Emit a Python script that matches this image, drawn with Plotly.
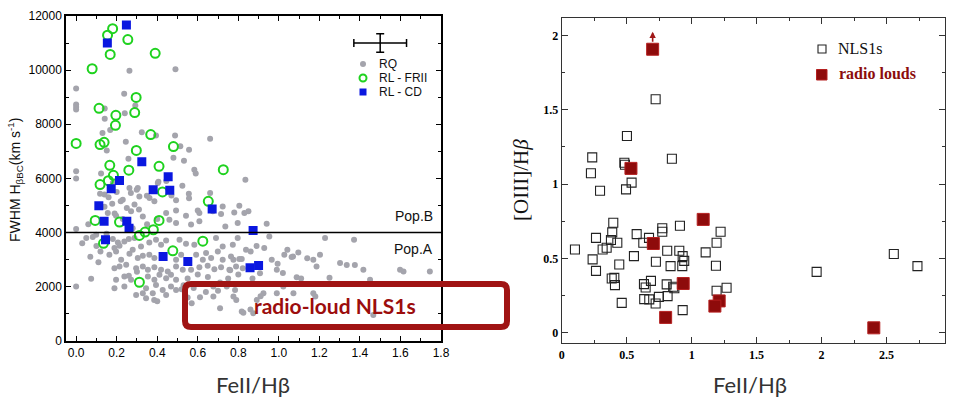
import plotly.graph_objects as go

# ---- left panel data: FeII/Hb vs FWHM Hb (km/s) ----
rq_points = [
    (0.263, 9980), (0.49, 10030), (0.0, 9320), (0.0, 8730), (0.0, 8640), (0.0, 8545),
    (0.237, 9130), (0.141, 8580), (0.24, 8410), (0.292, 8690), (0.141, 8200), (0.13, 7680),
    (0.168, 7790), (0.324, 7700), (0.394, 7580), (0.488, 7580), (0.661, 7460), (0.245, 7350),
    (0.151, 7030), (0.514, 7190), (0.557, 7060), (0.258, 6720), (0.48, 6760), (0.532, 6650),
    (0.0, 6260), (0.0, 5990), (0.123, 6180), (0.583, 6320), (0.59, 6175), (0.835, 5950),
    (0.406, 5870), (0.445, 5900), (0.524, 5730), (0.299, 5580), (0.27, 5460), (0.661, 5460),
    (0.349, 5360), (0.557, 5260), (0.118, 5430), (0.14, 5400), (0.47, 5370), (0.263, 5645),
    (0.304, 5645), (0.403, 5830), (0.181, 5830),
    (0.556, 5430), (0.312, 5330), (0.362, 5275), (0.23, 5210), (0.178, 5065), (0.288, 5030),
    (0.386, 5150), (0.493, 5190), (0.6, 4815), (0.608, 4720), (0.156, 4720), (0.197, 4620),
    (0.271, 4780), (0.329, 4590), (0.444, 4720), (0.493, 4815), (0.542, 4620), (0.674, 4780),
    (0.723, 4960), (0.715, 4680), (0.78, 4740), (0.805, 4990), (0.83, 4720), (0.493, 4350),
    (0.46, 4470), (0.567, 4290), (0.608, 4410), (0.736, 4220), (0.797, 4350), (0.279, 4160),
    (0.0, 4130), (0.85, 4780), (0.94, 4320), (0.953, 3850),
    (0.082, 3830), (0.099, 3915), (0.181, 3756), (0.206, 3630), (0.238, 3667), (0.26, 3756),
    (0.288, 3793), (0.189, 3422), (0.214, 3508), (0.279, 3360), (0.32, 3482), (0.361, 3630),
    (0.394, 3730), (0.419, 3545), (0.444, 3704), (0.51, 3730), (0.542, 3582), (0.583, 3545),
    (0.69, 3793), (0.723, 3482), (0.797, 3793), (0.773, 3545), (0.838, 3360), (0.164, 3175),
    (0.197, 3297), (0.222, 2989), (0.263, 3212), (0.304, 3052), (0.329, 3137), (0.361, 3175),
    (0.386, 3052), (0.493, 2989), (0.518, 3175), (0.592, 3175), (0.625, 2989), (0.641, 3238),
    (0.666, 3052), (0.699, 3297), (0.723, 2989), (0.764, 3111), (0.805, 3015), (0.189, 2682),
    (0.214, 2741), (0.247, 2804), (0.296, 2682), (0.329, 2741), (0.354, 2619), (0.386, 2719),
    (0.419, 2619), (0.452, 2556), (0.493, 2741), (0.526, 2619), (0.567, 2619), (0.608, 2719),
    (0.649, 2767), (0.682, 2645), (0.715, 2719), (0.756, 2619), (0.789, 2741), (0.822, 2682),
    (0.074, 2285), (0.197, 2248), (0.238, 2371), (0.271, 2248), (0.354, 2371), (0.386, 2248),
    (0.411, 2434), (0.444, 2311), (0.468, 2434), (0.493, 2248), (0.0, 2000), (0.189, 1941),
    (0.238, 2000), (0.345, 1941), (0.394, 2063), (0.427, 1878), (0.468, 2000), (0.493, 1878),
    (0.296, 1693), (0.329, 1756), (0.378, 1756), (0.444, 1693), (0.345, 1570), (0.385, 1508),
    (0.4, 1460), (0.52, 1900), (0.611, 1607), (0.677, 1630), (0.71, 1200), (0.677, 2000),
    (0.70, 1850), (0.743, 2000), (0.776, 1630), (0.817, 1075), (0.86, 1150), (0.891, 1508),
    (0.57, 1385),
    (0.861, 3297), (0.89, 3500), (0.928, 3422), (0.965, 2989), (0.99, 2619), (1.02, 2500),
    (1.042, 3360), (1.07, 3111), (1.088, 2348), (1.11, 2300), (1.17, 2989), (1.186, 2740),
    (1.203, 3175), (1.228, 3793), (1.25, 2330), (1.302, 2867), (1.335, 2800), (1.371, 3730),
    (1.375, 2800), (1.417, 2619), (1.45, 2248), (1.466, 952), (1.598, 2619), (1.615, 2556),
    (1.745, 2556), (1.14, 3050), (0.776, 2989), (0.817, 3015), (0.76, 2600), (0.994, 2841),
    (1.027, 3175), (1.063, 3089), (1.096, 3260), (0.907, 2497), (0.87, 2300), (0.924, 1756),
    (0.91, 1640), (0.99, 1756), (1.022, 2000), (1.072, 1756), (1.17, 1756), (1.18, 1630),
    (0.825, 1037), (0.874, 1015), (0.79, 1500), (0.784, 1878),
    (0.16, 5300), (0.2, 5500), (0.22, 5150), (0.14, 4950), (0.25, 4900), (0.19, 4700),
    (0.23, 4500), (0.06, 4300), (0.05, 3800), (0.1, 3500), (0.12, 3300), (0.03, 3600),
    (0.15, 3950), (0.35, 4300), (0.4, 4500), (0.31, 4850), (0.11, 2900), (0.07, 3100),
    (0.26, 2400), (0.30, 2550), (0.55, 2300), (0.6, 2450), (0.65, 2350), (0.53, 2050),
    (0.58, 1950), (0.64, 1800), (0.71, 2150), (0.75, 2300), (0.8, 2450), (0.55, 1600),
]
rq_fe = [p[0] for p in rq_points]
rq_fwhm = [p[1] for p in rq_points]

frii_fe = [0.18, 0.155, 0.255, 0.168, 0.39, 0.079, 0.296, 0.113, 0.196, 0.289, 0.194, 0.368,
           0.0, 0.118, 0.138, 0.297, 0.48, 0.166, 0.409, 0.26, 0.726, 0.184, 0.159, 0.118,
           0.426, 0.652, 0.094, 0.214, 0.409, 0.135, 0.312, 0.34, 0.381, 0.625, 0.477, 0.312]
frii_fwhm = [11530, 11290, 11130, 10580, 10620, 10050, 8990, 8590, 8330, 8430, 7960, 7620,
             7290, 7250, 7330, 7030, 7175, 6480, 6445, 6300, 6320, 6110, 5915, 5770,
             5500, 5150, 4445, 4385, 4445, 3600, 3890, 4015, 4100, 3680, 3320, 2160]

cd_fe = [0.248, 0.154, 0.324, 0.454, 0.173, 0.38, 0.462, 0.214, 0.112, 0.138, 0.25,
         0.261, 0.145, 0.671, 0.873, 0.429, 0.551, 0.858, 0.9]
cd_fwhm = [11670, 11000, 6610, 6060, 5620, 5580, 5560, 5920, 4990, 4410, 4410,
           4160, 3730, 4870, 4070, 3110, 2930, 2700, 2780]

pop_boundary = 4000
err_x = [1.5]
err_y = [11000]
err_dx = [0.13]
err_dy = [340]

# ---- right panel data: FeII/Hb vs [OIII]/Hb ----
nls1_fe = [0.723, 0.502, 0.235, 0.848, 0.225, 0.482, 0.487, 0.295, 0.495, 0.538,
           0.102, 0.238, 0.264, 0.264, 0.315, 0.346, 0.379, 0.389, 0.397, 0.428,
           0.443, 0.385, 0.405, 0.41, 0.462, 0.556, 0.577, 0.628, 0.672, 0.633,
           0.646, 0.687, 0.635, 0.674, 0.723, 0.725, 0.748, 0.774, 0.774, 0.812,
           0.808, 0.815, 0.838, 0.858, 0.867, 0.91, 0.905, 0.931, 0.928, 0.943,
           0.931, 1.108, 1.192, 1.187, 1.223, 1.192, 1.269, 1.962, 2.556, 2.738]
nls1_oiii = [1.571, 1.324, 1.18, 1.171, 1.073, 1.144, 1.13, 0.956, 0.965, 1.01,
             0.561, 0.494, 0.417, 0.639, 0.561, 0.572, 0.624, 0.676, 0.74, 0.606,
             0.46, 0.366, 0.37, 0.321, 0.202, 0.516, 0.664, 0.606, 0.639, 0.328,
             0.305, 0.35, 0.227, 0.225, 0.198, 0.478, 0.242, 0.703, 0.68, 0.552,
             0.326, 0.247, 0.449, 0.31, 0.3, 0.72, 0.552, 0.516, 0.449, 0.484,
             0.153, 0.541, 0.606, 0.451, 0.68, 0.283, 0.303, 0.41, 0.53, 0.449]

rl_fe = [0.7, 0.533, 1.089, 0.705, 0.935, 0.8, 1.212, 1.179, 2.402]
rl_oiii = [1.907, 1.106, 0.763, 0.601, 0.332, 0.104, 0.215, 0.18, 0.034]
lower_limit_fe = 0.7
lower_limit_oiii = 1.907

W, H = 960, 402


def px(x):
    return x / W


def py(y):
    return 1 - y / H


SANS = "Liberation Sans"
SERIF = "Liberation Serif"
CAL = "Lato"
DARKRED = "#8c0c0c"

fig = go.Figure()

fig.add_trace(go.Scatter(x=rq_fe, y=rq_fwhm, mode="markers", xaxis="x", yaxis="y",
                         marker=dict(color="#a4a4ac", size=6, line=dict(width=0))))
fig.add_trace(go.Scatter(x=frii_fe, y=frii_fwhm, mode="markers", xaxis="x", yaxis="y",
                         marker=dict(symbol="circle-open", color="#1fd21f", size=9,
                                     line=dict(width=2, color="#1fd21f"))))
fig.add_trace(go.Scatter(x=cd_fe, y=cd_fwhm, mode="markers", xaxis="x", yaxis="y",
                         marker=dict(symbol="square", color="#0a17e0", size=9,
                                     line=dict(width=0))))
fig.add_trace(go.Scatter(x=err_x, y=err_y, mode="markers", xaxis="x", yaxis="y",
                         marker=dict(size=1, color="black"),
                         error_x=dict(type="data", array=err_dx, color="black",
                                      thickness=1.5, width=4),
                         error_y=dict(type="data", array=err_dy, color="black",
                                      thickness=1.5, width=4)))

fig.add_trace(go.Scatter(x=nls1_fe, y=nls1_oiii, mode="markers", xaxis="x2", yaxis="y2",
                         marker=dict(symbol="square-open", color="#222", size=9,
                                     line=dict(width=1.1, color="#222"))))
fig.add_trace(go.Scatter(x=rl_fe, y=rl_oiii, mode="markers", xaxis="x2", yaxis="y2",
                         marker=dict(symbol="square", color="#8e0b0b", size=12,
                                     line=dict(width=1, color="#b52020"))))

left_ax = dict(showline=True, linecolor="black", linewidth=1.5, mirror="ticks",
               ticks="inside", ticklen=5, tickcolor="black", showgrid=False,
               zeroline=False, automargin=False,
               tickfont=dict(family=SANS, size=12, color="black"))
right_ax = dict(showline=True, linecolor="#333", linewidth=1, mirror="ticks",
                ticks="inside", ticklen=6, tickcolor="#333", showgrid=False,
                zeroline=False, automargin=False,
                tickfont=dict(family=SERIF, size=12, color="black", weight="bold"))

fig.update_layout(
    width=W, height=H, autosize=False,
    margin=dict(l=0, r=0, t=0, b=0, pad=0),
    paper_bgcolor="white", plot_bgcolor="white",
    showlegend=False,
    xaxis=dict(left_ax, domain=[px(66), px(441)], range=[-0.05, 1.8], dtick=0.2, tick0=0,
               tickformat=".1f", anchor="y",
               minor=dict(dtick=0.1, ticks="inside", ticklen=3, tickcolor="black")),
    yaxis=dict(left_ax, domain=[py(340.7), py(16)], range=[0, 12000], dtick=2000,
               tickformat="d", anchor="x",
               minor=dict(dtick=1000, ticks="inside", ticklen=3, tickcolor="black")),
    xaxis2=dict(right_ax, domain=[px(561.7), px(945)], range=[0, 2.95], dtick=0.5, tick0=0,
                anchor="y2",
                minor=dict(dtick=0.25, ticks="inside", ticklen=3, tickcolor="#333")),
    yaxis2=dict(right_ax, domain=[py(343.3), py(18.3)], range=[-0.07, 2.115], dtick=0.5,
                anchor="x2",
                minor=dict(dtick=0.25, ticks="inside", ticklen=3, tickcolor="#333")),
)

# Pop.A / Pop.B boundary
fig.add_shape(type="line", xref="x domain", yref="y", x0=0, x1=1,
              y0=pop_boundary, y1=pop_boundary, line=dict(color="black", width=1.5))

ann = []
ann.append(dict(x=1.77, y=pop_boundary, xref="x", yref="y", text="Pop.B", showarrow=False,
                xanchor="right", yanchor="bottom", yshift=6,
                font=dict(family=SANS, size=14, color="#111")))
ann.append(dict(x=1.77, y=pop_boundary, xref="x", yref="y", text="Pop.A", showarrow=False,
                xanchor="right", yanchor="top", yshift=-7,
                font=dict(family=SANS, size=14, color="#111")))


def label(xp, yp, text, font, xanchor="center", angle=0):
    return dict(x=px(xp), y=py(yp), xref="paper", yref="paper", text=text,
                showarrow=False, xanchor=xanchor, yanchor="middle",
                textangle=angle, font=font)


# axis titles
ann.append(label(253, 384, "FeII/Hβ", dict(family=CAL, size=22, color="#333")))
ann.append(label(750, 384, "FeII/Hβ", dict(family=CAL, size=22, color="#333")))
ann.append(label(15, 180, "FWHM H<sub>βBC</sub>(km s<sup>-1</sup>)",
                 dict(family=SANS, size=14, color="#111"), angle=-90))
ann.append(label(521, 180, "[OIII]/H<i>β</i>",
                 dict(family=SERIF, size=21, color="#111"), angle=-90))

# left legend (drawn by hand)
for text, yy in [("RQ", 64), ("RL - FRII", 78), ("RL - CD", 92)]:
    ann.append(label(377, yy, text, dict(family=SANS, size=12, color="#111"), xanchor="left"))
fig.add_shape(type="circle", xref="paper", yref="paper",
              x0=px(360), x1=px(366), y0=py(67), y1=py(61),
              fillcolor="#a4a4ac", line=dict(width=0))
fig.add_shape(type="circle", xref="paper", yref="paper",
              x0=px(359.5), x1=px(366.5), y0=py(81.5), y1=py(74.5),
              line=dict(color="#1fd21f", width=2))
fig.add_shape(type="rect", xref="paper", yref="paper",
              x0=px(359.5), x1=px(366.5), y0=py(95.5), y1=py(88.5),
              fillcolor="#0a17e0", line=dict(width=0))

# right legend
fig.add_shape(type="rect", xref="paper", yref="paper",
              x0=px(818), x1=px(826), y0=py(53), y1=py(45),
              line=dict(color="#222", width=1.1))
fig.add_shape(type="rect", xref="paper", yref="paper",
              x0=px(816.5), x1=px(827), y0=py(80), y1=py(69.5),
              fillcolor="#8e0b0b", line=dict(color="#b52020", width=1))
ann.append(label(836, 49, "NLS1s", dict(family=SERIF, size=16, color="#111"), xanchor="left"))
ann.append(label(837, 74, "radio louds",
                 dict(family=SERIF, size=16, color=DARKRED, weight="bold"), xanchor="left"))

# lower-limit arrow
ann.append(dict(x=lower_limit_fe, y=2.025, xref="x2", yref="y2",
                ax=lower_limit_fe, ay=lower_limit_oiii + 0.04, axref="x2", ayref="y2",
                showarrow=True, arrowhead=2, arrowsize=0.8, arrowwidth=1.6,
                arrowcolor="#a01818", text=""))

# highlight box
x0, x1, y0, y1, r = 185, 507, 284, 327, 6
path = (f"M {px(x0 + r)},{py(y0)} L {px(x1 - r)},{py(y0)} Q {px(x1)},{py(y0)} {px(x1)},{py(y0 + r)} "
        f"L {px(x1)},{py(y1 - r)} Q {px(x1)},{py(y1)} {px(x1 - r)},{py(y1)} "
        f"L {px(x0 + r)},{py(y1)} Q {px(x0)},{py(y1)} {px(x0)},{py(y1 - r)} "
        f"L {px(x0)},{py(y0 + r)} Q {px(x0)},{py(y0)} {px(x0 + r)},{py(y0)} Z")
fig.add_shape(type="path", xref="paper", yref="paper", path=path,
              line=dict(color="#a01414", width=6))
ann.append(label(335, 305, "<b>radio-loud NLS1s</b>", dict(family=CAL, size=21, color="#9c0d0d")))

fig.update_layout(annotations=ann)
fig.write_html("out.html", config={"displayModeBar": False},
               post_script="document.body.style.margin='0';")
